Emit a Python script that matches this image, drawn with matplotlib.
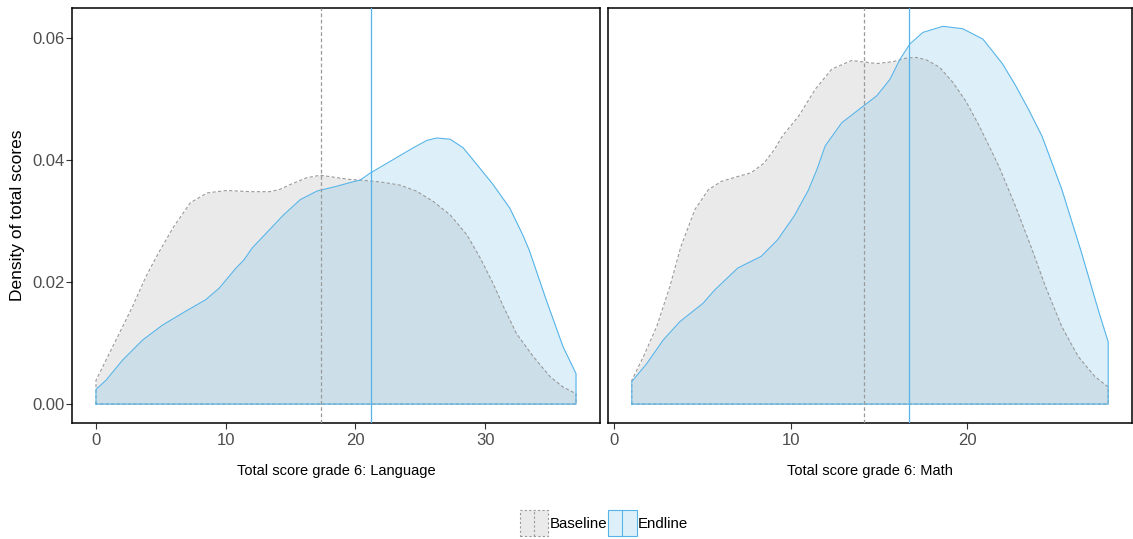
import numpy as np
import matplotlib
matplotlib.use("Agg")
import matplotlib.pyplot as plt
from matplotlib.patches import Patch, Rectangle
from matplotlib.lines import Line2D
from matplotlib.legend_handler import HandlerBase

plt.rcParams["font.family"] = ["Liberation Sans", "DejaVu Sans"]

# ── Density estimates (score, density) per subject and round ─────────
lang_base_x = [0, 0.77, 1.8, 2.82, 3.85, 4.8, 6.0, 7.28, 8.57, 10.1, 11.9, 13.4,
               14.2, 15.0, 16.26, 17.3, 18.57, 19.6, 20.36, 21.9, 23.4, 24.7,
               26.0, 27.3, 28.6, 29.6, 30.6, 31.4, 32.4, 33.7, 35.0, 36.0, 37.0]
lang_base_y = [0.0039, 0.0072, 0.0116, 0.0160, 0.0209, 0.0247, 0.0291, 0.0330,
               0.0346, 0.0350, 0.0348, 0.0348, 0.0352, 0.0360, 0.0371, 0.0375,
               0.0371, 0.0368, 0.0367, 0.0364, 0.0359, 0.0349, 0.0332, 0.0310,
               0.0277, 0.0240, 0.0198, 0.0160, 0.0116, 0.0078, 0.0045, 0.0028,
               0.0017]
lang_end_x = [0, 0.77, 2.05, 3.6, 5.1, 6.9, 8.46, 9.5, 10.8, 11.4, 12.05, 12.9,
              14.46, 15.75, 17.03, 18.57, 19.6, 20.36, 21.1, 21.9, 23.18, 24.46,
              25.5, 26.26, 27.3, 28.3, 29.34, 30.6, 31.9, 32.9, 33.4, 34.7, 36.0,
              37.0]
lang_end_y = [0.0024, 0.0039, 0.0072, 0.0105, 0.0129, 0.0152, 0.0171, 0.0190,
              0.0223, 0.0236, 0.0256, 0.0275, 0.0310, 0.0335, 0.0349, 0.0357,
              0.0363, 0.0367, 0.0378, 0.0388, 0.0404, 0.0420, 0.0432, 0.0436,
              0.0434, 0.0420, 0.0393, 0.0360, 0.0321, 0.0277, 0.0252, 0.0171,
              0.0094, 0.0050]

math_base_x = [1, 1.66, 2.41, 3.15, 3.78, 4.58, 5.33, 6.08, 7.02, 7.76, 8.5, 9.08,
               9.53, 10.46, 11.4, 12.34, 13.46, 14.88, 15.8, 16.57, 17.13, 17.7,
               18.44, 19.2, 19.94, 20.69, 21.8, 22.75, 23.69, 24.44, 25.37, 26.3,
               27.25, 28.0]
math_base_y = [0.0039, 0.0078, 0.0127, 0.0192, 0.0258, 0.0319, 0.0351, 0.0365,
               0.0373, 0.0379, 0.0395, 0.0417, 0.0439, 0.0472, 0.0516, 0.0549,
               0.0563, 0.0558, 0.0561, 0.0567, 0.0568, 0.0564, 0.0552, 0.0527,
               0.0496, 0.0456, 0.0390, 0.0324, 0.0253, 0.0193, 0.0127, 0.0078,
               0.0045, 0.0028]
math_end_x = [1, 1.84, 2.78, 3.72, 5.03, 5.7, 7.01, 8.33, 9.26, 10.2, 11.0, 11.5,
              11.96, 12.9, 14.02, 14.88, 15.63, 16.2, 16.76, 17.5, 18.63, 19.76,
              20.9, 22.0, 22.75, 23.5, 24.25, 25.37, 26.5, 27.44, 28.0]
math_end_y = [0.0037, 0.0066, 0.0105, 0.0135, 0.0165, 0.0187, 0.0223, 0.0242,
              0.0269, 0.0308, 0.0350, 0.0385, 0.0423, 0.0461, 0.0486, 0.0505,
              0.0532, 0.0565, 0.0590, 0.0609, 0.0619, 0.0615, 0.0598, 0.0558,
              0.0522, 0.0482, 0.0439, 0.0352, 0.0247, 0.0154, 0.0102]

# group means (Baseline, Endline)
lang_means = [17.38, 21.18]
math_means = [14.15, 16.70]

groups = ["Baseline", "Endline"]

BASE_COL = "#999999"
END_COL = "#56B4E9"

panels = [
    ("Total score grade 6: Language", [(lang_base_x, lang_base_y), (lang_end_x, lang_end_y)],
     lang_means, [0, 10, 20, 30]),
    ("Total score grade 6: Math", [(math_base_x, math_base_y), (math_end_x, math_end_y)],
     math_means, [0, 10, 20]),
]

W, H = 1133, 539
fig = plt.figure(figsize=(W / 100, H / 100), dpi=100)
boxes = [(72, 8, 600, 423), (608, 8, 1132, 423)]

styles = [
    dict(face=BASE_COL, alpha=0.2, edge="#9a9a9a", ls=(0, (3, 2))),
    dict(face=END_COL, alpha=0.2, edge=END_COL, ls="-"),
]

for i, ((title, curves, means, ticks), (x0, y0, x1, y1)) in enumerate(zip(panels, boxes)):
    ax = fig.add_axes([x0 / W, 1 - y1 / H, (x1 - x0) / W, (y1 - y0) / H])
    for (xs, ys), st, m in zip(curves, styles, means):
        xs = np.asarray(xs)
        ys = np.asarray(ys)
        ax.fill_between(xs, 0, ys, color=st["face"], alpha=st["alpha"], linewidth=0)
        px = np.concatenate([[xs[0]], xs, [xs[-1], xs[0]]])
        py = np.concatenate([[0], ys, [0, 0]])
        ax.plot(px, py, color=st["edge"], lw=0.8, ls=st["ls"])
        ax.axvline(m, color=st["edge"], lw=0.9, ls=st["ls"], zorder=4)

    lo = min(min(c[0]) for c in curves)
    hi = max(max(c[0]) for c in curves)
    pad = 0.05 * (hi - lo)
    ax.set_xlim(lo - pad, hi + pad)
    ax.set_ylim(-0.0031, 0.0649)
    ax.set_xticks(ticks)
    ax.set_xticklabels([str(t) for t in ticks])
    ax.set_yticks([0, 0.02, 0.04, 0.06])
    if i == 0:
        ax.set_yticklabels(["0.00", "0.02", "0.04", "0.06"])
        ax.set_ylabel("Density of total scores", fontsize=12.5, color="black", labelpad=5)
        ax.tick_params(axis="y", length=4, width=0.8, color="#333333",
                       labelsize=12, labelcolor="#4d4d4d", pad=1.5)
    else:
        ax.tick_params(axis="y", left=False, labelleft=False)
    ax.tick_params(axis="x", length=4, width=0.8, color="#333333",
                   labelsize=12, labelcolor="#4d4d4d", pad=3)
    ax.set_xlabel(title, fontsize=10.5, color="black", labelpad=12)
    for sp in ax.spines.values():
        sp.set_linewidth(1.1)
        sp.set_color("black")


# legend keys: filled box with a vertical line through the middle
class DensityKey(HandlerBase):
    def create_artists(self, legend, orig_handle, xdescent, ydescent, width, height,
                       fontsize, trans):
        rect = Rectangle((-xdescent, -ydescent), width, height,
                         facecolor=orig_handle.get_facecolor(),
                         edgecolor=orig_handle.get_edgecolor(),
                         linestyle=orig_handle.get_linestyle(), linewidth=0.8,
                         transform=trans)
        line = Line2D([-xdescent + width / 2] * 2, [-ydescent, -ydescent + height],
                      color=orig_handle.get_edgecolor(),
                      linestyle=orig_handle.get_linestyle(), linewidth=0.8,
                      transform=trans)
        return [rect, line]


handles = [
    Patch(facecolor=(0.6, 0.6, 0.6, 0.2), edgecolor="#9a9a9a", linestyle=(0, (2, 2))),
    Patch(facecolor=(86 / 255, 180 / 255, 233 / 255, 0.2), edgecolor=END_COL, linestyle="-"),
]
fig.legend(handles, groups, handler_map={Patch: DensityKey()}, loc="center",
           bbox_to_anchor=(604 / W, 1 - 523 / H), ncol=2, frameon=False,
           fontsize=10.8, handlelength=1.9, handleheight=2.2, handletextpad=0.1,
           columnspacing=0.05, borderpad=0)

fig.savefig("out.png", dpi=100)
